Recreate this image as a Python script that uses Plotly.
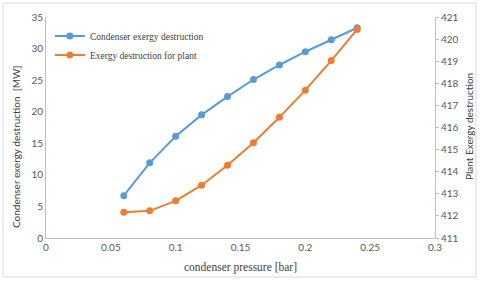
import plotly.graph_objects as go

pressure = [0.06, 0.08, 0.10, 0.12, 0.14, 0.16, 0.18, 0.20, 0.22, 0.24]
condenser_exergy = [6.7, 11.9, 16.1, 19.5, 22.4, 25.1, 27.4, 29.5, 31.4, 33.3]
plant_exergy = [412.16, 412.23, 412.68, 413.39, 414.29, 415.31, 416.46, 417.69, 419.03, 420.44]

blue = "#5B9BD5"
orange = "#ED7D31"
serif = "Liberation Serif, serif"
sans = "Lato"
tick_font = dict(family=sans, size=10, color="#595959")

fig = go.Figure()
fig.add_trace(go.Scatter(x=pressure, y=condenser_exergy, mode="lines+markers",
                         name="Condenser exergy destruction",
                         line=dict(color=blue, width=2), marker=dict(size=7, color=blue)))
fig.add_trace(go.Scatter(x=pressure, y=plant_exergy, mode="lines+markers",
                         name="Exergy destruction for plant", yaxis="y2",
                         line=dict(color=orange, width=2), marker=dict(size=7, color=orange)))

L, R, T, B = 46, 45, 17, 47
W, H = 480, 285
pw, ph = W - L - R, H - T - B

fig.update_layout(
    width=W, height=H,
    margin=dict(l=L, r=R, t=T, b=B, pad=0, autoexpand=False),
    paper_bgcolor="white", plot_bgcolor="white",
    showlegend=True,
    legend=dict(x=0.01, y=0.98, xanchor="left", yanchor="top",
                bgcolor="rgba(0,0,0,0)",
                font=dict(family=serif, size=9.5, color="#404040"),
                itemwidth=30, tracegroupgap=0),
    xaxis=dict(range=[0, 0.3], tickvals=[0, 0.05, 0.1, 0.15, 0.2, 0.25, 0.3],
               ticktext=["0", "0.05", "0.1", "0.15", "0.2", "0.25", "0.3"],
               showgrid=False, zeroline=False, showline=True, linecolor="#BFBFBF", linewidth=1,
               ticks="", tickfont=tick_font, automargin=False,
               title=dict(text="condenser pressure [bar]", standoff=10,
                          font=dict(family=serif, size=11.5, color="#404040"))),
    yaxis=dict(range=[0, 35], dtick=5, showgrid=False, zeroline=False, showline=True,
               linecolor="#BFBFBF", linewidth=1, ticks="", tickfont=tick_font, automargin=False),
    yaxis2=dict(range=[411, 421], dtick=1, overlaying="y", side="right", showgrid=False,
                zeroline=False, showline=True, linecolor="#BFBFBF", linewidth=1, automargin=False,
                ticks="outside", ticklen=3, tickcolor="#BFBFBF", tickfont=tick_font),
    annotations=[
        dict(text="Condenser exergy destruction  [MW]", xref="paper", yref="paper",
             x=(16 - L) / pw, y=(T + ph - 147) / ph, textangle=-90, showarrow=False,
             xanchor="center", yanchor="middle",
             font=dict(family=sans, size=10, color="#404040")),
        dict(text="Plant Exergy destruction", xref="paper", yref="paper",
             x=(469 - L) / pw, y=(T + ph - 127) / ph, textangle=-90, showarrow=False,
             xanchor="center", yanchor="middle",
             font=dict(family=sans, size=10, color="#404040")),
    ],
    shapes=[dict(type="rect", xref="paper", yref="paper",
                 x0=(3 - L) / pw, x1=(W - 4 - L) / pw,
                 y0=-(H - 8 - (T + ph)) / ph, y1=1 + (T - 3) / ph,
                 line=dict(color="#D9D9D9", width=1), fillcolor="rgba(0,0,0,0)", layer="below")],
)

fig.write_html("out.html", config={"displayModeBar": False},
               post_script="document.body.style.margin='0';document.body.style.padding='0';")
